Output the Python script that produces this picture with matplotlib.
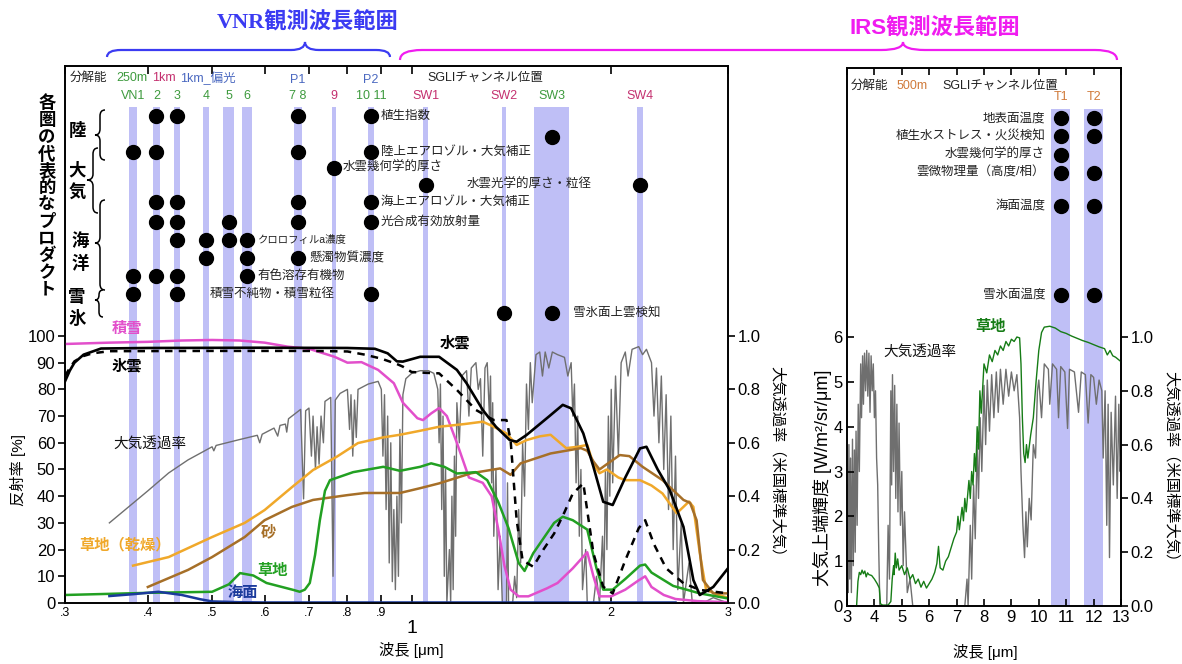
import numpy as np
import matplotlib.pyplot as plt
from matplotlib.path import Path
from matplotlib.patches import PathPatch
from matplotlib.ticker import NullLocator

plt.rcParams['font.family'] = ['Liberation Sans', 'Noto Sans CJK JP', 'DejaVu Sans']

# ---- SGLI channels ----
vnr_band_center = [0.380, 0.412, 0.443, 0.490, 0.530, 0.565, 0.6735, 0.763, 0.8685, 1.05, 1.38, 1.63, 2.21]
vnr_band_width = [0.010, 0.010, 0.010, 0.010, 0.020, 0.020, 0.020, 0.012, 0.020, 0.020, 0.020, 0.200, 0.050]
vnr_band_names = ['VN1', '2', '3', '4', '5', '6', '7 8', '9', '10 11', 'SW1', 'SW2', 'SW3', 'SW4']
vnr_band_res = ['g', 'g', 'g', 'g', 'g', 'g', 'g', 'm', 'g', 'm', 'm', 'g', 'm']
irs_band_center = [10.8, 12.0]
irs_band_width = [0.7, 0.7]
irs_band_names = ['T1', 'T2']

# ---- products (dots) ----
vnr_products = ['植生指数', '陸上エアロゾル・大気補正', '水雲幾何学的厚さ', '水雲光学的厚さ・粒径',
                '海上エアロゾル・大気補正', '光合成有効放射量', 'クロロフィルa濃度', '懸濁物質濃度',
                '有色溶存有機物', '積雪不純物・積雪粒径', '雪氷面上雲検知']
vnr_product_bands = [[0.412, 0.443, 0.6735, 0.8685],
                     [0.380, 0.412, 0.6735, 0.8685],
                     [0.763],
                     [1.05, 2.21],
                     [0.412, 0.443, 0.6735, 0.8685],
                     [0.412, 0.443, 0.530, 0.6735, 0.8685],
                     [0.443, 0.490, 0.530, 0.565],
                     [0.490, 0.565, 0.6735],
                     [0.380, 0.412, 0.443, 0.565],
                     [0.380, 0.443, 0.8685],
                     [1.38, 1.63]]
vnr_product_label_x = [0.899, 0.899, 0.788, 1.211, 0.899, 0.899, 0.586, 0.702, 0.586, 0.496, 1.75]
vnr_extra_dot = (1.63, 174.5)
irs_products = ['地表面温度', '植生水ストレス・火災検知', '水雲幾何学的厚さ', '雲微物理量（高度/相）', '海面温度', '雪氷面温度']
irs_product_bands = [[10.8, 12.0], [10.8, 12.0], [10.8], [10.8, 12.0], [10.8, 12.0], [10.8, 12.0]]

# ---- reflectance [%] ----
snow_wl = [0.30, 0.35, 0.40, 0.45, 0.50, 0.55, 0.60, 0.65, 0.70, 0.765, 0.80, 0.84, 0.89, 0.94, 0.97, 1.02, 1.04,
           1.07, 1.10, 1.13, 1.17, 1.22, 1.28, 1.32, 1.35, 1.38, 1.41, 1.45, 1.50, 1.60, 1.66, 1.75, 1.84, 1.88,
           1.92, 2.0, 2.1, 2.2, 2.25, 2.3, 2.4, 2.5, 2.7, 3.0]
snow_r = [97, 97.5, 97.8, 98.3, 98.5, 98.3, 97.5, 96, 95.2, 92.2, 90, 90.2, 87.3, 82.3, 75, 69.2, 68.5,
          71, 73, 70, 60, 47, 45, 40, 28, 14, 5, 2.5, 2.5, 5.5, 7.5, 13, 19, 10,
          2.5, 2.5, 5, 8.5, 10, 6, 3, 1.5, 0.7, 0.3]

wcloud_wl = [0.30, 0.305, 0.31, 0.32, 0.34, 0.40, 0.60, 0.80, 0.88, 0.92, 0.95, 0.97, 1.03, 1.10, 1.17, 1.21,
             1.28, 1.34, 1.406, 1.44, 1.49, 1.61, 1.69, 1.74, 1.815, 1.88, 1.945, 2.01, 2.1, 2.21, 2.26, 2.35,
             2.45, 2.57, 2.66, 2.72, 2.85, 3.0]
wcloud_r = [83, 87, 90, 93, 95.3, 95.5, 95.6, 95.5, 95.2, 93.5, 90.5, 90.4, 92.2, 92.2, 87.3, 82.3,
            72.3, 66, 61, 60.4, 62.9, 69.8, 74.2, 72.9, 63.5, 51, 37.9, 36.7, 47, 57.9, 58.5, 50,
            42.3, 28.5, 8.6, 3, 6, 13]

icloud_wl = [0.30, 0.305, 0.31, 0.32, 0.33, 0.35, 0.50, 0.70, 0.80, 0.85, 0.90, 0.95, 0.97, 1.00, 1.05, 1.10,
             1.17, 1.25, 1.33, 1.39, 1.41, 1.44, 1.47, 1.525, 1.58, 1.64, 1.70, 1.75, 1.815, 1.88, 1.945, 2.01,
             2.1, 2.2, 2.25, 2.32, 2.42, 2.57, 2.72, 3.0]
icloud_r = [85, 88, 90.5, 92.5, 93.5, 94.3, 94.4, 94.4, 94.2, 93, 91.5, 89.5, 88.5, 86.5, 86.2, 86,
            79.8, 72.3, 68.5, 68.5, 61, 31, 16, 13.6, 20, 26, 34, 41, 44.8, 18.6, 6.1, 3.6,
            16, 28, 31, 22, 13, 7.4, 4.9, 3.6]

drygrass_wl = [0.38, 0.43, 0.50, 0.56, 0.60, 0.66, 0.71, 0.77, 0.83, 0.905, 0.96, 1.03, 1.10, 1.20, 1.28, 1.33,
               1.39, 1.44, 1.49, 1.56, 1.62, 1.71, 1.78, 1.84, 1.88, 1.92, 1.97, 2.05, 2.1, 2.21, 2.3, 2.39,
               2.51, 2.57, 2.62, 2.66, 2.72, 2.78, 2.9, 3.0]
drygrass_r = [14, 17.2, 24.7, 30, 34.8, 43.4, 49.8, 54.7, 59.9, 62, 63, 64.5, 66, 67, 67.9, 66,
              63.5, 59.2, 61, 62.4, 63, 58, 58.5, 59.2, 52, 48.6, 50, 47, 46, 46, 44, 41,
              33.6, 36, 38, 36, 18.7, 5, 3, 2]

sand_wl = [0.40, 0.46, 0.50, 0.56, 0.60, 0.66, 0.71, 0.80, 0.85, 0.96, 1.03, 1.10, 1.23, 1.36, 1.41, 1.46,
           1.62, 1.80, 1.84, 1.88, 1.92, 1.97, 2.06, 2.13, 2.23, 2.39, 2.57, 2.63, 2.69, 2.75, 2.85, 3.0]
sand_r = [6, 12.4, 17.2, 24.7, 31, 36, 38.6, 40.4, 41.2, 41.2, 43, 44.8, 48.6, 50.4, 48, 52.3,
          56, 58, 57, 53, 50, 52, 55.4, 55, 51, 46, 38.6, 37.5, 31, 8.6, 3.6, 3.6]

grass_wl = [0.30, 0.40, 0.50, 0.53, 0.551, 0.577, 0.604, 0.663, 0.678, 0.69, 0.702, 0.715, 0.727, 0.74, 0.753,
            0.816, 0.906, 0.96, 1.03, 1.07, 1.12, 1.17, 1.25, 1.30, 1.35, 1.40, 1.45, 1.48, 1.525, 1.64, 1.69,
            1.75, 1.84, 1.90, 1.945, 2.01, 2.1, 2.21, 2.25, 2.3, 2.48, 2.72, 3.0]
grass_r = [3, 3.8, 4.2, 7, 11.2, 10.3, 7.5, 4.9, 4.2, 5, 7.5, 18, 31, 42, 46,
           49, 51, 49.5, 51, 52.3, 51, 48.5, 49, 46, 38, 28, 15, 12, 18.6, 30, 32.3,
           31, 27.5, 13, 5, 5, 9, 14, 14.4, 11.4, 6.4, 3.6, 1.7]

sea_wl = [0.35, 0.38, 0.415, 0.45, 0.48, 0.50, 0.55, 0.60, 1.0, 2.5]
sea_r = [2.6, 3.3, 4.2, 3.0, 1.4, 0.6, 0.3, 0.2, 0.2, 0.2]

# ---- atmospheric transmittance (US standard) ----
atm_vnr = [(0.35, 0.30), (0.38, 0.374), (0.40, 0.42), (0.43, 0.487), (0.46, 0.536), (0.50, 0.585), (0.503, 0.57),
           (0.507, 0.59), (0.55, 0.612), (0.585, 0.628), (0.59, 0.60), (0.595, 0.632), (0.62, 0.655),
           (0.628, 0.625), (0.633, 0.665), (0.645, 0.67), (0.648, 0.64), (0.652, 0.69), (0.66, 0.70),
           (0.68, 0.725), (0.687, 0.39), (0.692, 0.72), (0.70, 0.73), (0.706, 0.55), (0.71, 0.70), (0.716, 0.50),
           (0.72, 0.66), (0.725, 0.52), (0.73, 0.70), (0.736, 0.60), (0.74, 0.755), (0.755, 0.77), (0.761, 0.10),
           (0.767, 0.76), (0.78, 0.785), (0.80, 0.80), (0.806, 0.65), (0.81, 0.78), (0.815, 0.55), (0.82, 0.76),
           (0.825, 0.62), (0.83, 0.80), (0.86, 0.82), (0.89, 0.83), (0.90, 0.80), (0.905, 0.55), (0.91, 0.78),
           (0.915, 0.35), (0.92, 0.70), (0.925, 0.15), (0.93, 0.60), (0.935, 0.08), (0.94, 0.35), (0.945, 0.05),
           (0.95, 0.40), (0.955, 0.10), (0.96, 0.65), (0.965, 0.30), (0.97, 0.78), (0.98, 0.84), (1.0, 0.86),
           (1.03, 0.87), (1.06, 0.87), (1.08, 0.86), (1.095, 0.80), (1.10, 0.60), (1.105, 0.82), (1.11, 0.35),
           (1.115, 0.70), (1.12, 0.10), (1.125, 0.50), (1.13, 0.0), (1.14, 0.20), (1.145, 0.0), (1.15, 0.40),
           (1.155, 0.05), (1.16, 0.55), (1.165, 0.25), (1.17, 0.75), (1.18, 0.60), (1.19, 0.85), (1.21, 0.87),
           (1.22, 0.70), (1.23, 0.88), (1.25, 0.90), (1.26, 0.80), (1.27, 0.84), (1.28, 0.55), (1.29, 0.88),
           (1.30, 0.90), (1.31, 0.70), (1.315, 0.85), (1.32, 0.45), (1.325, 0.75), (1.33, 0.25), (1.34, 0.50),
           (1.35, 0.05), (1.36, 0.25), (1.37, 0.0), (1.39, 0.0), (1.395, 0.45), (1.40, 0.0), (1.42, 0.0),
           (1.43, 0.10), (1.44, 0.02), (1.45, 0.35), (1.46, 0.15), (1.47, 0.60), (1.48, 0.40), (1.49, 0.82),
           (1.50, 0.65), (1.51, 0.90), (1.52, 0.75), (1.54, 0.93), (1.56, 0.94), (1.575, 0.85), (1.59, 0.94),
           (1.61, 0.88), (1.63, 0.94), (1.66, 0.93), (1.70, 0.92), (1.72, 0.85), (1.74, 0.90), (1.75, 0.70),
           (1.76, 0.82), (1.77, 0.45), (1.78, 0.70), (1.79, 0.25), (1.80, 0.50), (1.81, 0.05), (1.83, 0.20),
           (1.84, 0.0), (1.88, 0.0), (1.90, 0.10), (1.92, 0.0), (1.94, 0.25), (1.95, 0.05), (1.96, 0.50),
           (1.97, 0.20), (1.98, 0.70), (1.99, 0.40), (2.00, 0.80), (2.01, 0.45), (2.03, 0.85), (2.05, 0.55),
           (2.07, 0.90), (2.10, 0.94), (2.12, 0.85), (2.15, 0.95), (2.20, 0.96), (2.23, 0.93), (2.26, 0.95),
           (2.30, 0.90), (2.32, 0.70), (2.34, 0.88), (2.36, 0.60), (2.38, 0.85), (2.40, 0.50), (2.42, 0.78),
           (2.44, 0.35), (2.46, 0.70), (2.48, 0.20), (2.50, 0.55), (2.52, 0.05), (2.55, 0.30), (2.57, 0.0),
           (2.62, 0.15), (2.65, 0.0), (2.75, 0.0), (2.85, 0.02), (3.0, 0.0)]

atm_irs = [(3.0, 0.0), (3.02, 0.45), (3.04, 0.05), (3.07, 0.60), (3.1, 0.10), (3.13, 0.55), (3.16, 0.05),
           (3.2, 0.62), (3.23, 0.15), (3.27, 0.58), (3.3, 0.20), (3.33, 0.65), (3.37, 0.30), (3.41, 0.75),
           (3.45, 0.50), (3.5, 0.90), (3.53, 0.70), (3.57, 0.93), (3.6, 0.75), (3.64, 0.94), (3.68, 0.80),
           (3.72, 0.95), (3.76, 0.78), (3.8, 0.94), (3.84, 0.72), (3.88, 0.93), (3.92, 0.80), (3.96, 0.90),
           (4.0, 0.70), (4.04, 0.80), (4.08, 0.55), (4.12, 0.45), (4.16, 0.20), (4.2, 0.0), (4.45, 0.0),
           (4.5, 0.30), (4.55, 0.10), (4.6, 0.80), (4.63, 0.45), (4.66, 0.86), (4.7, 0.50), (4.74, 0.82),
           (4.78, 0.40), (4.82, 0.75), (4.86, 0.35), (4.9, 0.68), (4.95, 0.30), (5.0, 0.50), (5.05, 0.15),
           (5.1, 0.35), (5.2, 0.05), (5.3, 0.10), (5.4, 0.0), (7.3, 0.0), (7.38, 0.10), (7.42, 0.0),
           (7.5, 0.30), (7.55, 0.10), (7.62, 0.45), (7.68, 0.25), (7.75, 0.60), (7.8, 0.40), (7.86, 0.70),
           (7.92, 0.50), (8.0, 0.82), (8.06, 0.60), (8.12, 0.84), (8.2, 0.65), (8.28, 0.86), (8.36, 0.70),
           (8.45, 0.87), (8.52, 0.72), (8.6, 0.88), (8.7, 0.75), (8.8, 0.88), (8.9, 0.78), (9.0, 0.87),
           (9.1, 0.80), (9.2, 0.86), (9.3, 0.70), (9.35, 0.50), (9.42, 0.30), (9.48, 0.18), (9.53, 0.35),
           (9.58, 0.22), (9.65, 0.40), (9.72, 0.32), (9.8, 0.60), (9.88, 0.55), (9.95, 0.80), (10.0, 0.84),
           (10.1, 0.70), (10.2, 0.90), (10.35, 0.88), (10.4, 0.75), (10.5, 0.90), (10.65, 0.88), (10.72, 0.70),
           (10.8, 0.89), (10.95, 0.87), (11.05, 0.66), (11.12, 0.88), (11.3, 0.87), (11.45, 0.72), (11.55, 0.87),
           (11.7, 0.86), (11.8, 0.68), (11.9, 0.86), (12.0, 0.85), (12.1, 0.75), (12.2, 0.84), (12.3, 0.80),
           (12.35, 0.55), (12.42, 0.80), (12.48, 0.30), (12.53, 0.75), (12.58, 0.18), (12.64, 0.72),
           (12.72, 0.45), (12.8, 0.78), (12.86, 0.40), (12.92, 0.75), (12.97, 0.50), (13.0, 0.58)]

# ---- TOA radiance of grass [W/m2/sr/um] ----
grass_irs = [(3.35, 0.0), (3.4, 0.55), (3.45, 0.75), (3.5, 0.70), (3.55, 0.80), (3.6, 0.72), (3.65, 0.78),
             (3.7, 0.65), (3.75, 0.74), (3.8, 0.70), (3.9, 0.68), (4.0, 0.60), (4.1, 0.50), (4.18, 0.40),
             (4.22, 0.05), (4.3, 0.02), (4.5, 0.02), (4.6, 0.10), (4.65, 0.60), (4.7, 0.90), (4.72, 0.70),
             (4.76, 1.18), (4.8, 0.85), (4.85, 1.05), (4.9, 0.80), (5.0, 0.90), (5.1, 0.70), (5.2, 0.85),
             (5.3, 0.60), (5.4, 0.70), (5.5, 0.50), (5.6, 0.60), (5.7, 0.42), (5.8, 0.55), (5.9, 0.40),
             (6.0, 0.50), (6.1, 0.60), (6.2, 0.75), (6.28, 0.95), (6.34, 1.33), (6.4, 0.85), (6.5, 0.80),
             (6.6, 1.00), (6.7, 1.10), (6.8, 1.30), (6.9, 1.50), (7.0, 1.65), (7.05, 2.00), (7.1, 1.70),
             (7.2, 2.20), (7.25, 1.90), (7.3, 2.40), (7.35, 2.10), (7.45, 2.80), (7.5, 2.40), (7.55, 3.00),
             (7.6, 2.70), (7.65, 3.40), (7.7, 3.00), (7.75, 4.00), (7.8, 3.50), (7.85, 4.80), (7.9, 4.30),
             (8.0, 5.40), (8.1, 5.20), (8.2, 5.60), (8.3, 5.45), (8.4, 5.70), (8.5, 5.60), (8.6, 5.80),
             (8.7, 5.70), (8.8, 5.90), (8.9, 5.80), (9.0, 5.95), (9.1, 5.90), (9.2, 6.00), (9.3, 5.98),
             (9.35, 5.40), (9.4, 4.20), (9.45, 3.40), (9.5, 3.20), (9.55, 3.60), (9.6, 3.30), (9.7, 3.80),
             (9.8, 4.20), (9.9, 5.00), (10.0, 5.70), (10.1, 6.10), (10.2, 6.22), (10.4, 6.24), (10.6, 6.20),
             (10.8, 6.12), (11.0, 6.08), (11.2, 6.02), (11.4, 5.97), (11.6, 5.92), (11.8, 5.88), (12.0, 5.83),
             (12.2, 5.78), (12.4, 5.74), (12.5, 5.60), (12.6, 5.70), (12.7, 5.58), (12.8, 5.55), (12.9, 5.50),
             (13.0, 5.45)]

vnr_xticks = [0.3, 0.4, 0.5, 0.6, 0.7, 0.8, 0.9, 1.0, 2.0, 3.0]
vnr_xticklabels = ['.3', '.4', '.5', '.6', '.7', '.8', '.9', '', '2', '3']

# ---- colours ----
band_c = '#bfbff6'
gray_c = '#6f6f6f'
col_green_lbl = '#3d9a3d'
col_mag_lbl = '#c4306f'
col_blue_lbl = '#4a68c0'
res_color = {'g': col_green_lbl, 'm': col_mag_lbl}

W, H = 1182, 664
fig = plt.figure(figsize=(W / 100, H / 100), dpi=100)

# ================= VNR panel =================
ax = fig.add_axes([65 / W, 1 - 603 / H, 663 / W, 537 / H])
ax.set_xscale('log')
ax2 = ax.twinx()
ax.set_zorder(ax2.get_zorder() + 1)
ax.patch.set_visible(False)
ax.set_xlim(0.3, 3.0)
ax.set_ylim(0, 201.1)
ax2.set_ylim(0, 2.011)

for c, w in zip(vnr_band_center, vnr_band_width):
    ax2.axvspan(c - w / 2, c + w / 2, ymin=0, ymax=0.9236, color=band_c, lw=0, zorder=0)

aw, at = zip(*atm_vnr)
ax2.plot(aw, at, color=gray_c, lw=1.0, zorder=1)

ax.plot(snow_wl, snow_r, color='#e24fcb', lw=1.8)
ax.plot(drygrass_wl, drygrass_r, color='#f0a82a', lw=1.8)
ax.plot(sand_wl, sand_r, color='#a66f28', lw=1.8)
ax.plot(grass_wl, grass_r, color='#22a022', lw=1.8)
ax.plot(sea_wl, sea_r, color='#1b3a9c', lw=1.8)
ax.plot(icloud_wl, icloud_r, color='black', lw=1.8, ls=(0, (3, 2.5)))
ax.plot(wcloud_wl, wcloud_r, color='black', lw=1.9)

vnr_row_y = [182.4, 168.9, 162.9, 156.6, 150.2, 142.7, 136.0, 129.2, 122.5, 115.7, 108.6]
vnr_label_size = [9, 9, 9, 9, 9, 9, 7.5, 9, 9, 9, 9]
for name, bands, lx, y, fs in zip(vnr_products, vnr_product_bands, vnr_product_label_x, vnr_row_y, vnr_label_size):
    ax.plot(bands, [y] * len(bands), 'o', color='black', ms=10)
    ax.text(lx, y, name, fontsize=fs, ha='left', va='center', color='#222222')
ax.plot([vnr_extra_dot[0]], [vnr_extra_dot[1]], 'o', color='black', ms=10)

# channel header
for c, nm, r in zip(vnr_band_center, vnr_band_names, vnr_band_res):
    ax.text(c, 189.9, nm, fontsize=9, color=res_color[r], ha='center', va='center')
ax.text(0.6735, 195.9, 'P1', fontsize=9, color=col_blue_lbl, ha='center', va='center')
ax.text(0.8685, 195.9, 'P2', fontsize=9, color=col_blue_lbl, ha='center', va='center')
ax.text(0.305, 196.6, '分解能', fontsize=9, color='#222222', ha='left', va='center')
ax.text(0.359, 196.6, '250m', fontsize=9, color=col_green_lbl, ha='left', va='center')
ax.text(0.406, 196.6, '1km', fontsize=9, color=col_mag_lbl, ha='left', va='center')
ax.text(0.447, 196.6, '1km_偏光', fontsize=9, color=col_blue_lbl, ha='left', va='center')
ax.text(1.058, 196.6, 'SGLIチャンネル位置', fontsize=9, color='#222222', ha='left', va='center')

# curve labels
ax.text(0.353, 102.6, '積雪', color='#e24fcb', fontsize=11, fontweight='bold', ha='left', va='center')
ax.text(0.353, 88.8, '氷雲', color='black', fontsize=11, fontweight='bold', ha='left', va='center')
ax.text(1.162, 97.4, '水雲', color='black', fontsize=11, fontweight='bold', ha='center', va='center')
ax.text(0.403, 59.6, '大気透過率', color='#111111', fontsize=10.5, ha='center', va='center')
ax.text(0.369, 21.7, '草地（乾燥）', color='#f0a82a', fontsize=11, fontweight='bold', ha='center', va='center')
ax.text(0.607, 26.6, '砂', color='#a66f28', fontsize=11, fontweight='bold', ha='center', va='center')
ax.text(0.617, 12.0, '草地', color='#22a022', fontsize=11, fontweight='bold', ha='center', va='center')
ax.text(0.5566, 3.9, '海面', color='#1b3a9c', fontsize=11, fontweight='bold', ha='center', va='center')

ax.set_xticks(vnr_xticks)
ax.set_xticklabels(vnr_xticklabels)
ax.xaxis.set_minor_locator(NullLocator())
ax.tick_params(axis='x', which='both', direction='in', top=True, length=6, width=1.2, labelsize=9, pad=3)
ax.set_yticks(range(0, 101, 10))
ax.tick_params(axis='y', direction='out', length=5, width=1.2, labelsize=12, pad=2)
ax2.set_yticks([0, 0.2, 0.4, 0.6, 0.8, 1.0])
ax2.set_yticklabels(['0.0', '0.2', '0.4', '0.6', '0.8', '1.0'])
ax2.tick_params(axis='y', direction='out', length=5, width=1.2, labelsize=12, pad=2)
ax.text(1.0, -0.047, '1', transform=ax.get_xaxis_transform(), ha='center', va='center', fontsize=14)
ax.text(0.523, -0.0875, '波長 [μm]', transform=ax.transAxes, ha='center', va='center', fontsize=11)
ax.text(-0.071, 0.248, '反射率 [%]', transform=ax.transAxes, rotation=90, ha='center', va='center', fontsize=11)
ax.text(1.074, 0.257, '大気透過率（米国標準大気）', transform=ax.transAxes, rotation=-90,
        ha='center', va='center', fontsize=11)
for a in (ax, ax2):
    for s in a.spines.values():
        s.set_linewidth(1.2)

# ================= IRS panel =================
axr = fig.add_axes([847 / W, 1 - 606 / H, 274 / W, 538 / H])
axr2 = axr.twinx()
axr.set_zorder(axr2.get_zorder() + 1)
axr.patch.set_visible(False)
axr.set_xlim(3, 13)
axr.set_ylim(0, 12.0)
axr2.set_ylim(0, 2.0)
for c, w in zip(irs_band_center, irs_band_width):
    axr2.axvspan(c - w / 2, c + w / 2, ymin=0, ymax=0.9238, color=band_c, lw=0, zorder=0)
iw, it = zip(*atm_irs)
axr2.plot(iw, it, color=gray_c, lw=1.0, zorder=1)
gw, gr = zip(*grass_irs)
axr.plot(gw, gr, color='#167c16', lw=1.0)

irs_row_y = [10.88, 10.48, 10.06, 9.66, 8.92, 6.94]
for name, bands, y in zip(irs_products, irs_product_bands, irs_row_y):
    axr.plot(bands, [y] * len(bands), 'o', color='black', ms=10)
    axr.text(10.23, y, name, fontsize=9, ha='right', va='center', color='#222222')
for c, nm in zip(irs_band_center, irs_band_names):
    axr.text(c, 11.35, nm, fontsize=9, color='#d07a3a', ha='center', va='center')
axr.text(3.15, 11.6, '分解能', fontsize=9, color='#222222', ha='left', va='center')
axr.text(4.79, 11.6, '500m', fontsize=9, color='#d07a3a', ha='left', va='center')
axr.text(6.5, 11.6, 'SGLIチャンネル位置', fontsize=9, color='#222222', ha='left', va='center')
axr.text(5.66, 5.67, '大気透過率', fontsize=10.5, color='#111111', ha='center', va='center')
axr.text(8.22, 6.22, '草地', fontsize=11, color='#167c16', fontweight='bold', ha='center', va='center')

axr.set_xticks(range(3, 14))
axr.tick_params(axis='x', direction='in', top=True, length=5, width=1.2, labelsize=12, pad=3)
axr.set_yticks(range(0, 7))
axr.tick_params(axis='y', direction='in', length=5, width=1.2, labelsize=12, pad=3)
axr2.set_yticks([0, 0.2, 0.4, 0.6, 0.8, 1.0])
axr2.set_yticklabels(['0.0', '0.2', '0.4', '0.6', '0.8', '1.0'])
axr2.tick_params(axis='y', direction='out', length=5, width=1.2, labelsize=12, pad=2)
axr.text(0.504, -0.0855, '波長 [μm]', transform=axr.transAxes, ha='center', va='center', fontsize=11)
axr.text(-0.091, 0.238, '大気上端輝度 [W/m²/sr/μm]', transform=axr.transAxes, rotation=90,
         ha='center', va='center', fontsize=13)
axr.text(1.182, 0.253, '大気透過率（米国標準大気）', transform=axr.transAxes, rotation=-90,
         ha='center', va='center', fontsize=11)
for a in (axr, axr2):
    for s in a.spines.values():
        s.set_linewidth(1.2)

# ================= annotations (pixel overlay) =================
ov = fig.add_axes([0, 0, 1, 1])
ov.set_xlim(0, W)
ov.set_ylim(H, 0)
ov.axis('off')


def hbrace(x0, x1, xc, ye, ym, yt, r, color):
    verts = [(x0, ye), (x0, ym), (x0 + r, ym), (xc - r, ym), (xc, ym), (xc, yt),
             (xc, ym), (xc + r, ym), (x1 - r, ym), (x1, ym), (x1, ye)]
    codes = [Path.MOVETO, Path.CURVE3, Path.CURVE3, Path.LINETO, Path.CURVE3, Path.CURVE3,
             Path.CURVE3, Path.CURVE3, Path.LINETO, Path.CURVE3, Path.CURVE3]
    ov.add_patch(PathPatch(Path(verts, codes), fill=False, color=color, lw=1.6))


def vbrace(xe, xm, xt, y0, y1, yc, r):
    verts = [(xe, y0), (xm, y0), (xm, y0 + r), (xm, yc - r), (xm, yc), (xt, yc),
             (xm, yc), (xm, yc + r), (xm, y1 - r), (xm, y1), (xe, y1)]
    codes = [Path.MOVETO, Path.CURVE3, Path.CURVE3, Path.LINETO, Path.CURVE3, Path.CURVE3,
             Path.CURVE3, Path.CURVE3, Path.LINETO, Path.CURVE3, Path.CURVE3]
    ov.add_patch(PathPatch(Path(verts, codes), fill=False, color='black', lw=1.1))


hbrace(107, 390, 305, 57, 50, 42, 14, '#3b3bf2')
hbrace(400, 1117, 903, 60, 50, 42, 22, '#f01cf0')
ov.text(308, 23, 'VNR観測波長範囲', color='#3b3bf2', fontsize=16, fontweight='bold', ha='center', va='center',
        family=['Liberation Serif', 'Noto Sans CJK JP'])
ov.text(935, 29, 'IRS観測波長範囲', color='#f01cf0', fontsize=16, fontweight='bold', ha='center', va='center',
        family=['Liberation Sans', 'Noto Sans CJK JP'])

for i, ch in enumerate('各圏の代表的なプロダクト'):
    ov.text(47, 103 + 17 * i, ch, fontsize=12.5, fontweight='bold', ha='center', va='center')
for ch, x, y in [('陸', 77, 130), ('大', 77, 170), ('気', 77, 192), ('海', 80, 241), ('洋', 80, 263),
                 ('雪', 77, 297), ('氷', 77, 318)]:
    ov.text(x, y, ch, fontsize=12.5, fontweight='bold', ha='center', va='center')
vbrace(105, 100, 95, 110, 160, 135, 6)
vbrace(98, 93, 87, 148, 213, 180, 6)
vbrace(105, 100, 95, 200, 290, 243, 6)
vbrace(103, 99, 95, 290, 317, 300, 5)

fig.savefig('out.png', dpi=100)
